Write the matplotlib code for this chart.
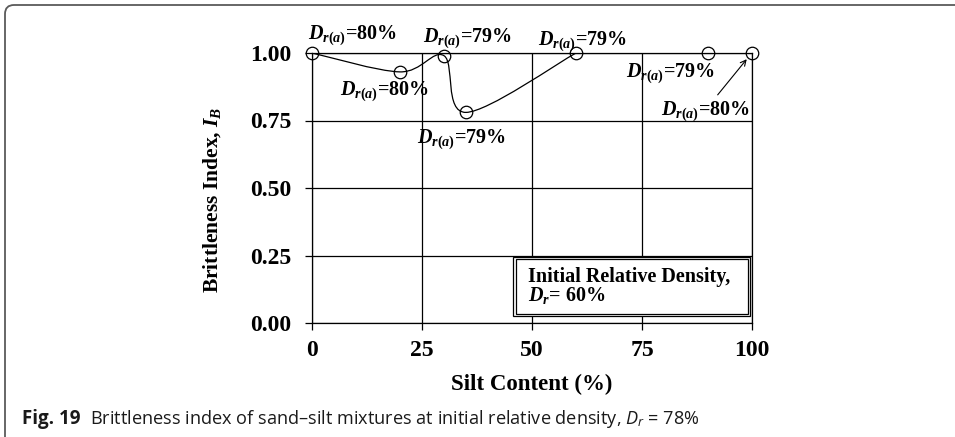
import matplotlib
matplotlib.use('Agg')
import matplotlib.pyplot as plt
from matplotlib.path import Path
from matplotlib.patches import PathPatch, Rectangle, FancyBboxPatch
from matplotlib.transforms import IdentityTransform

plt.rcParams['font.family'] = 'Liberation Serif'
plt.rcParams['font.weight'] = 'bold'
plt.rcParams['mathtext.fontset'] = 'custom'
plt.rcParams['mathtext.rm'] = 'Liberation Serif:bold'
plt.rcParams['mathtext.it'] = 'Liberation Serif:italic:bold'
plt.rcParams['mathtext.bf'] = 'Liberation Serif:bold'
plt.rcParams['mathtext.sf'] = 'Open Sans:italic:normal'

# data
silt = [0, 20, 30, 35, 60, 90, 100]
brittleness = [1.00, 0.93, 0.99, 0.78, 1.00, 1.00, 1.00]
n_curve = 5  # smoothed line joins the first five points only
dr_labels = ['80%', '80%', '79%', '79%', '79%', '79%', '80%']
label_pos = [(-0.9, 1.068), (6.4, 0.858), (25.2, 1.054), (23.9, 0.680),
             (51.4, 1.043), (71.4, 0.925), (79.3, 0.784)]
xticks = [0, 25, 50, 75, 100]
yticks = [0.00, 0.25, 0.50, 0.75, 1.00]

fig = plt.figure(figsize=(9.55, 4.37), dpi=100)
ax = fig.add_axes([312/955, 1-323/437, 440/955, 270/437])


def smooth_path(xs, ys):
    # Catmull-Rom style bezier, like a spreadsheet "smoothed line"
    pts = list(zip(xs, ys))
    verts = [pts[0]]
    codes = [Path.MOVETO]
    for i in range(len(pts) - 1):
        p0 = pts[max(i - 1, 0)]
        p1 = pts[i]
        p2 = pts[i + 1]
        p3 = pts[min(i + 2, len(pts) - 1)]
        c1 = (p1[0] + (p2[0] - p0[0]) / 6, p1[1] + (p2[1] - p0[1]) / 6)
        c2 = (p2[0] - (p3[0] - p1[0]) / 6, p2[1] - (p3[1] - p1[1]) / 6)
        verts += [c1, c2, p2]
        codes += [Path.CURVE4] * 3
    return Path(verts, codes)


ax.add_patch(PathPatch(smooth_path(silt[:n_curve], brittleness[:n_curve]),
                       facecolor='none', edgecolor='black', lw=0.9, zorder=3))
ax.plot(silt, brittleness, ls='none', marker='o', ms=9, mfc='none',
        mec='black', mew=0.9, clip_on=False, zorder=4)

for (tx, ty), lab in zip(label_pos, dr_labels):
    ax.text(tx, ty, r'$D_{r(a)}$=' + lab, fontsize=14.5, ha='left', va='center',
            zorder=5)

ax.annotate('', xy=(99.2, 0.985), xytext=(91.8, 0.837),
            arrowprops=dict(arrowstyle='->', lw=0.8, color='black'))

# legend-like text box
ax.add_patch(Rectangle((45.7, 0.026), 53.8, 0.218, facecolor='white',
                       edgecolor='black', lw=0.9, zorder=5))
ax.add_patch(Rectangle((46.4, 0.033), 52.7, 0.204, facecolor='white',
                       edgecolor='black', lw=0.9, zorder=5))
ax.text(49.1, 0.172, 'Initial Relative Density,', fontsize=14.5, ha='left',
        va='center', zorder=6)
ax.text(49.1, 0.103, r'$D_r$= 60%', fontsize=14.5, ha='left', va='center',
        zorder=6)

ax.set_xlim(0, 100)
ax.set_ylim(0, 1)
ax.set_xticks(xticks)
ax.set_yticks(yticks)
ax.set_yticklabels([f'{v:.2f}' for v in yticks])
ax.tick_params(axis='both', direction='out', length=5, width=0.9,
               labelsize=17, color='black')
ax.tick_params(axis='x', pad=7)
ax.tick_params(axis='y', pad=10)
ax.grid(True, color='black', lw=0.9)
ax.set_axisbelow(True)
for s in ax.spines.values():
    s.set_linewidth(0.9)
    s.set_color('black')

fig.text(212/955, 1-200/437, r'Brittleness Index, $I_B$', rotation=90,
         fontsize=15.5, ha='center', va='center')
fig.text(532/955, 1-384/437, 'Silt Content (%)', fontsize=16.5,
         ha='center', va='center')

# caption and frame of the figure panel
t1 = fig.text(22/955, 1-424/437, 'Fig. 19', family='Open Sans',
              weight='bold', fontsize=13.5, color='#1a1a1a', va='baseline')
r = fig.canvas.get_renderer()
bb = t1.get_window_extent(r)
fig.text((bb.x1 + 9)/955, 1-424/437,
         r'Brittleness index of sand–silt mixtures at initial relative density, '
         r'$\mathsf{D}_\mathsf{r}$ = 78%', family='Open Sans', weight='normal',
         fontsize=13.1, color='#1a1a1a', va='baseline')

frame = FancyBboxPatch((5, -10), 970, 442, boxstyle='round,pad=0,rounding_size=9',
                       transform=IdentityTransform(), facecolor='none',
                       edgecolor='#5a5a5a', lw=1.3, clip_on=False)
fig.patches.append(frame)

fig.savefig('out.png', dpi=100)
